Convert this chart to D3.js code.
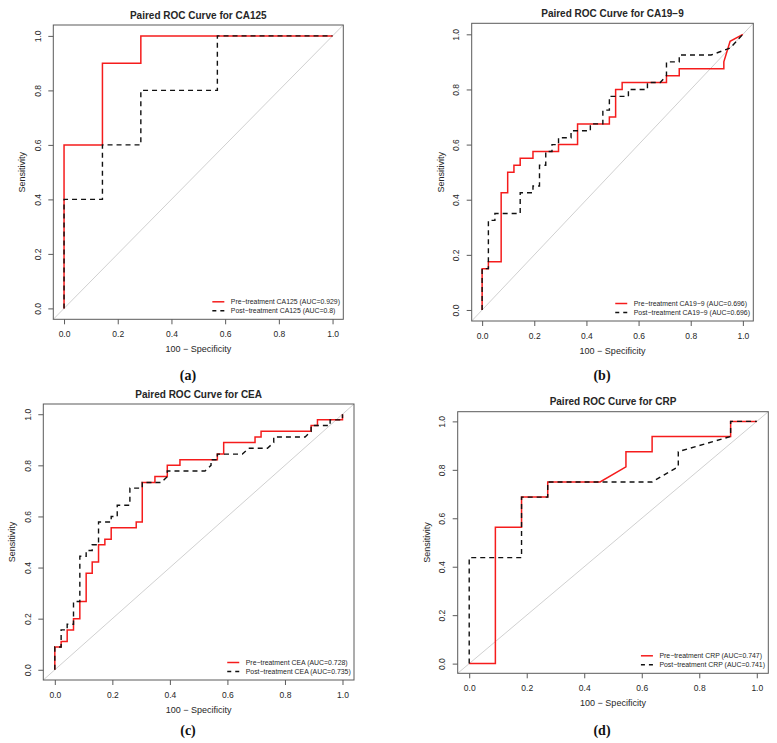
<!DOCTYPE html>
<html>
<head>
<meta charset="utf-8">
<script src="https://cdn.jsdelivr.net/npm/d3@7"></script>
<style>
  body { margin: 0; background: #fff; }
  svg { display: block; font-family: "Liberation Sans", Arial, sans-serif; }
</style>
</head>
<body>
<svg id="chart" width="777" height="743"></svg>
<script>
// ---- data: [1 - specificity, sensitivity] steps ----
var tickValues = [0, 0.2, 0.4, 0.6, 0.8, 1.0];

var ca125Pre  = [[0,0],[0,0.6],[0.143,0.6],[0.143,0.9],[0.286,0.9],[0.286,1],[1,1]];
var ca125Post = [[0,0],[0,0.4],[0.143,0.4],[0.143,0.6],[0.286,0.6],[0.286,0.8],[0.571,0.8],[0.571,1],[1,1]];

var ca199Pre = [[0,0],[0,0.15],[0.024,0.15],[0.024,0.175],[0.073,0.175],[0.073,0.425],[0.098,0.425],
  [0.098,0.5],[0.122,0.5],[0.122,0.525],[0.146,0.525],[0.146,0.55],[0.195,0.55],[0.195,0.575],
  [0.293,0.575],[0.293,0.6],[0.366,0.6],[0.366,0.675],[0.488,0.675],[0.488,0.7],[0.512,0.7],
  [0.512,0.8],[0.537,0.8],[0.537,0.825],[0.707,0.825],[0.707,0.85],[0.756,0.85],[0.756,0.875],
  [0.927,0.875],[0.927,0.9],[0.951,0.975],[1,1]];
var ca199Post = [[0,0],[0,0.15],[0.024,0.15],[0.024,0.325],[0.049,0.325],[0.049,0.35],[0.146,0.35],
  [0.146,0.425],[0.195,0.425],[0.195,0.45],[0.22,0.45],[0.22,0.525],[0.244,0.525],[0.244,0.575],
  [0.268,0.575],[0.268,0.6],[0.293,0.6],[0.293,0.625],[0.341,0.625],[0.341,0.65],[0.415,0.65],
  [0.415,0.675],[0.463,0.675],[0.463,0.725],[0.488,0.725],[0.488,0.775],[0.561,0.775],[0.561,0.8],
  [0.634,0.8],[0.634,0.825],[0.683,0.825],[0.707,0.85],[0.707,0.9],[0.756,0.9],[0.756,0.925],
  [0.878,0.925],[0.951,0.95],[1,1]];

var ceaPre = [[0,0],[0,0.089],[0.022,0.089],[0.022,0.111],[0.043,0.111],[0.043,0.156],[0.065,0.156],
  [0.065,0.2],[0.087,0.2],[0.087,0.267],[0.109,0.267],[0.109,0.378],[0.13,0.378],[0.13,0.422],
  [0.152,0.422],[0.152,0.489],[0.174,0.489],[0.174,0.511],[0.196,0.511],[0.196,0.556],[0.283,0.556],
  [0.283,0.578],[0.304,0.578],[0.304,0.733],[0.348,0.733],[0.348,0.756],[0.391,0.756],[0.391,0.8],
  [0.435,0.8],[0.435,0.822],[0.565,0.822],[0.565,0.844],[0.587,0.844],[0.587,0.889],[0.696,0.889],
  [0.696,0.911],[0.717,0.911],[0.717,0.933],[0.891,0.933],[0.891,0.956],[0.913,0.956],[0.913,0.978],
  [1,0.978],[1,1]];
var ceaPost = [[0,0],[0,0.089],[0.022,0.089],[0.022,0.156],[0.043,0.156],[0.043,0.178],[0.065,0.178],
  [0.065,0.267],[0.087,0.267],[0.087,0.444],[0.109,0.444],[0.109,0.467],[0.13,0.467],[0.13,0.489],
  [0.152,0.489],[0.152,0.578],[0.196,0.578],[0.196,0.6],[0.217,0.6],[0.217,0.644],[0.261,0.644],
  [0.261,0.711],[0.304,0.711],[0.304,0.733],[0.37,0.733],[0.391,0.756],[0.391,0.778],[0.522,0.778],
  [0.543,0.8],[0.543,0.822],[0.565,0.822],[0.565,0.844],[0.652,0.844],[0.674,0.867],[0.739,0.867],
  [0.761,0.889],[0.761,0.911],[0.87,0.911],[0.891,0.933],[0.891,0.956],[0.957,0.956],[0.957,0.978],
  [1,0.978],[1,1]];

var crpPre  = [[0,0],[0.091,0],[0.091,0.5625],[0.182,0.5625],[0.182,0.6875],[0.273,0.6875],[0.273,0.75],
  [0.455,0.75],[0.545,0.8125],[0.545,0.875],[0.636,0.875],[0.636,0.9375],[0.909,0.9375],[0.909,1],[1,1]];
var crpPost = [[0,0],[0,0.4375],[0.182,0.4375],[0.182,0.6875],[0.273,0.6875],[0.273,0.75],[0.636,0.75],
  [0.727,0.8125],[0.727,0.875],[0.909,0.9375],[0.909,1],[1,1]];

var markers   = ["CA125", "CA19\u22129", "CEA", "CRP"];
var preAuc    = ["0.929", "0.696", "0.728", "0.747"];
var postAuc   = ["0.8", "0.696", "0.735", "0.741"];
var captions  = ["(a)", "(b)", "(c)", "(d)"];

// ---- layout: plot box of each panel (pixels) and caption anchor ----
var panels = [
  { box: { l: 53.3,  r: 343.3, t: 25,    b: 319.3 }, pre: ca125Pre, post: ca125Post, cap: [188, 380] },
  { box: { l: 471.7, r: 753.3, t: 23.3,  b: 321 },   pre: ca199Pre, post: ca199Post, cap: [602, 380] },
  { box: { l: 43.3,  r: 354,   t: 404,   b: 680 },   pre: ceaPre,   post: ceaPost,   cap: [188, 735] },
  { box: { l: 457.7, r: 768.3, t: 411.7, b: 673.3 }, pre: crpPre,   post: crpPost,   cap: [602, 735] }
];

var svg = d3.select("#chart");
var fmt = d3.format(".1f");
var RED = "#f51c1c", INK = "#262626", FRAME = "#5a5a5a";

panels.forEach(function(p, i) {
  var b = p.box;
  // R pads the data range by 4% on each side
  var x = d3.scaleLinear().domain([-0.04, 1.04]).range([b.l, b.r]);
  var y = d3.scaleLinear().domain([-0.04, 1.04]).range([b.b, b.t]);
  var g = svg.append("g");

  // chance diagonal, corner to corner
  g.append("line")
      .attr("x1", x(-0.04)).attr("y1", y(-0.04))
      .attr("x2", x(1.04)).attr("y2", y(1.04))
      .attr("stroke", "#c4c4c4").attr("stroke-width", 0.8);

  var line = d3.line()
      .x(function(d) { return x(d[0]); })
      .y(function(d) { return y(d[1]); });

  g.append("path").datum(p.pre)
      .attr("d", line)
      .attr("fill", "none").attr("stroke", RED).attr("stroke-width", 1.5);

  g.append("path").datum(p.post)
      .attr("d", line)
      .attr("fill", "none").attr("stroke", "#111").attr("stroke-width", 1.4)
      .attr("stroke-dasharray", "5,4");

  // frame
  g.append("rect")
      .attr("x", b.l).attr("y", b.t)
      .attr("width", b.r - b.l).attr("height", b.b - b.t)
      .attr("fill", "none").attr("stroke", FRAME).attr("stroke-width", 1);

  // axes
  var xAxis = g.append("g")
      .attr("transform", "translate(0," + b.b + ")")
      .call(d3.axisBottom(x).tickValues(tickValues).tickFormat(fmt).tickSize(5));
  xAxis.select(".domain").remove();
  xAxis.attr("font-family", null);
  xAxis.selectAll("line").attr("stroke", FRAME);
  xAxis.selectAll("text")
      .attr("y", 15).attr("dy", "0.35em")
      .attr("fill", INK).attr("font-size", 8.5);

  var yAxis = g.append("g")
      .attr("transform", "translate(" + b.l + ",0)")
      .call(d3.axisLeft(y).tickValues(tickValues).tickFormat(fmt).tickSize(5));
  yAxis.select(".domain").remove();
  yAxis.attr("font-family", null);
  yAxis.selectAll("line").attr("stroke", FRAME);
  yAxis.selectAll("text")
      .attr("transform", "rotate(-90)")
      .attr("x", 0).attr("y", -15.5).attr("dy", "0.35em")
      .attr("text-anchor", "middle")
      .attr("fill", INK).attr("font-size", 8.5);

  // titles and axis labels
  g.append("text")
      .attr("x", (b.l + b.r) / 2).attr("y", b.t - 10)
      .attr("dy", "0.35em").attr("text-anchor", "middle")
      .attr("font-weight", "bold").attr("font-size", 10).attr("fill", INK)
      .text("Paired ROC Curve for " + markers[i]);

  g.append("text")
      .attr("x", (b.l + b.r) / 2).attr("y", b.b + 30)
      .attr("dy", "0.35em").attr("text-anchor", "middle")
      .attr("font-size", 9).attr("fill", INK)
      .text("100 \u2212 Specificity");

  g.append("text")
      .attr("transform", "translate(" + (b.l - 31) + "," + ((b.t + b.b) / 2) + ") rotate(-90)")
      .attr("dy", "0.35em").attr("text-anchor", "middle")
      .attr("font-size", 9).attr("fill", INK)
      .text("Sensitivity");

  // legend, bottom-right inside the frame, no border
  var labels = [
    "Pre\u2212treatment " + markers[i] + " (AUC=" + preAuc[i] + ")",
    "Post\u2212treatment " + markers[i] + " (AUC=" + postAuc[i] + ")"
  ];
  var leg = g.append("g");
  var texts = leg.selectAll("text").data(labels).enter().append("text")
      .attr("dy", "0.35em").attr("font-size", 6.9).attr("fill", INK)
      .text(function(d) { return d; });
  var maxW = d3.max(texts.nodes(), function(n) { return n.getComputedTextLength(); });
  var tx = b.r - 3.3 - maxW;
  var rowY = [b.b - 17.5, b.b - 8.5];
  texts.attr("x", tx).attr("y", function(d, k) { return rowY[k]; });
  leg.append("line")
      .attr("x1", tx - 18.5).attr("x2", tx - 6.5)
      .attr("y1", rowY[0]).attr("y2", rowY[0])
      .attr("stroke", RED).attr("stroke-width", 1.5);
  leg.append("line")
      .attr("x1", tx - 18.5).attr("x2", tx - 6.5)
      .attr("y1", rowY[1]).attr("y2", rowY[1])
      .attr("stroke", "#111").attr("stroke-width", 1.4)
      .attr("stroke-dasharray", "4,4");

  // panel caption
  svg.append("text")
      .attr("x", p.cap[0]).attr("y", p.cap[1])
      .attr("text-anchor", "middle")
      .attr("font-family", "'Liberation Serif', 'DejaVu Serif', serif")
      .attr("font-weight", "bold").attr("font-size", 14).attr("fill", "#111")
      .text(captions[i]);
});
</script>
</body>
</html>
